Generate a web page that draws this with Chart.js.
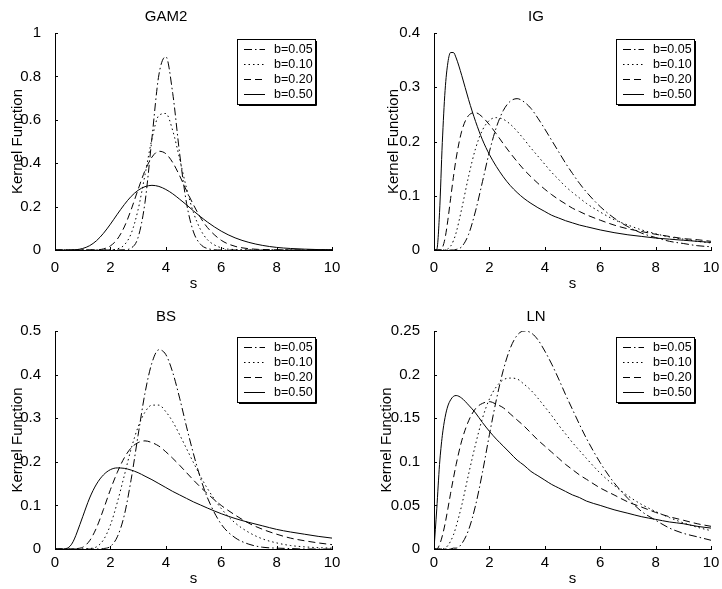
<!DOCTYPE html>
<html>
<head>
<meta charset="utf-8">
<script src="https://cdn.jsdelivr.net/npm/chart.js@4.4.1/dist/chart.umd.min.js"></script>
<style>
  body { margin: 0; background: #fff; }
  #wrap { position: relative; width: 722px; height: 589px; overflow: hidden; }
  canvas { position: absolute; }
</style>
</head>
<body>
<div id="wrap">
  <canvas id="gam2" width="361" height="295" style="left:0px;top:0px"></canvas>
  <canvas id="ig" width="361" height="295" style="left:361px;top:0px"></canvas>
  <canvas id="bs" width="361" height="294" style="left:0px;top:295px"></canvas>
  <canvas id="ln" width="361" height="294" style="left:361px;top:295px"></canvas>
</div>
<script>
// s grid shared by all four panels
const S = [0, 0.1, 0.2, 0.3, 0.4, 0.5, 0.6, 0.7, 0.8,
  1, 1.25, 1.5, 1.75, 2, 2.25, 2.5, 2.75, 3, 3.25, 3.5, 3.75,
  4, 4.25, 4.5, 4.75, 5, 5.25, 5.5, 6, 6.5, 7, 7.5, 8, 8.5, 9, 9.5, 10];

const bLabels = ['b=0.05', 'b=0.10', 'b=0.20', 'b=0.50'];
const xTicks = [0, 2, 4, 6, 8, 10];

// GAM2
const gam2_005 = [0,0,0,0,0,0,0,0,0, 0,0,0,0, 0,0,0.001,0.009, 0.058,0.22,0.516,0.807,
  0.891,0.722,0.444,0.215, 0.083,0.027,0.007, 0,0,0,0,0,0,0,0,0];
const gam2_010 = [0,0,0,0,0,0,0,0,0, 0,0,0,0, 0.001,0.005,0.023,0.076, 0.186,0.347,0.512,0.62,
  0.629,0.55,0.42,0.284, 0.172,0.095,0.048, 0.01,0.002,0,0,0,0,0,0,0];
const gam2_020 = [0,0,0,0,0,0,0,0,0, 0,0,0.001,0.005, 0.019,0.05,0.106,0.186, 0.279,0.366,0.428,0.455,
  0.444,0.403,0.342,0.273, 0.208,0.15,0.104, 0.045,0.017,0.006,0.002,0.001,0,0,0,0];
const gam2_050 = [0,0,0,0,0,0,0,0.001,0.002, 0.007,0.02,0.043,0.077, 0.119,0.165,0.209,0.247, 0.275,0.292,0.298,0.293,
  0.279,0.259,0.234,0.208, 0.18,0.154,0.129, 0.087,0.056,0.035,0.021,0.012,0.007,0.004,0.002,0.001];

// IG
const ig_005 = [0,0,0,0,0,0,0,0,0.001, 0.006,0.029,0.072,0.126, 0.181,0.226,0.257,0.274, 0.279,0.273,0.261,0.243,
  0.223,0.202,0.181,0.16, 0.141,0.123,0.107, 0.08,0.059,0.043,0.031,0.023,0.016,0.012,0.008,0.006];
const ig_010 = [0,0,0,0,0,0.002,0.007,0.017,0.032, 0.076,0.136,0.187,0.221, 0.239,0.244,0.241,0.232, 0.219,0.204,0.188,0.173,
  0.158,0.143,0.13,0.117, 0.106,0.096,0.086, 0.07,0.056,0.046,0.037,0.03,0.024,0.02,0.016,0.013];
const ig_020 = [0,0,0,0.004,0.022,0.055,0.095,0.134,0.169, 0.219,0.248,0.253,0.245, 0.231,0.214,0.196,0.179, 0.163,0.148,0.135,0.123,
  0.112,0.102,0.093,0.085, 0.077,0.071,0.065, 0.055,0.046,0.039,0.034,0.029,0.025,0.021,0.019,0.016];
const ig_050 = [0,0.001,0.069,0.198,0.294,0.345,0.364,0.364,0.354, 0.322,0.277,0.237,0.203, 0.176,0.154,0.135,0.119, 0.106,0.095,0.086,0.078,
  0.071,0.064,0.059,0.054, 0.05,0.046,0.043, 0.037,0.032,0.028,0.025,0.022,0.02,0.018,0.016,0.014];

// BS
const bs_005 = [0,0,0,0,0,0,0,0,0, 0,0,0,0.001, 0.006,0.028,0.077,0.16, 0.261,0.358,0.427,0.457,
  0.446,0.405,0.346,0.28, 0.218,0.163,0.118, 0.057,0.026,0.011,0.004,0.002,0.001,0,0,0];
const bs_010 = [0,0,0,0,0,0,0,0,0, 0,0.001,0.005,0.021, 0.055,0.107,0.168,0.23, 0.28,0.314,0.33,0.33,
  0.315,0.292,0.262,0.23, 0.198,0.167,0.139, 0.093,0.06,0.038,0.023,0.014,0.008,0.005,0.003,0.002];
const bs_020 = [0,0,0,0,0,0,0,0,0.001, 0.004,0.019,0.049,0.091, 0.136,0.176,0.209,0.232, 0.244,0.248,0.244,0.236,
  0.223,0.208,0.192,0.175, 0.158,0.142,0.127, 0.1,0.078,0.059,0.045,0.034,0.025,0.019,0.014,0.01];
const bs_050 = [0,0,0,0,0.001,0.004,0.011,0.023,0.039, 0.074,0.117,0.149,0.17, 0.182,0.186,0.185,0.181, 0.175,0.167,0.159,0.15,
  0.141,0.132,0.124,0.116, 0.108,0.101,0.094, 0.081,0.07,0.061,0.053,0.045,0.039,0.034,0.029,0.025];

// LN
const ln_005 = [0,0,0,0,0,0,0,0.001,0.001, 0.006,0.022,0.05,0.088, 0.131,0.171,0.205,0.23, 0.245,0.25,0.248,0.24,
  0.227,0.212,0.195,0.177, 0.16,0.143,0.127, 0.099,0.076,0.058,0.043,0.033,0.024,0.018,0.014,0.01];
const ln_010 = [0,0,0,0,0.001,0.004,0.009,0.016,0.026, 0.05,0.086,0.12,0.15, 0.172,0.186,0.194,0.196, 0.195,0.189,0.182,0.173,
  0.163,0.153,0.142,0.132, 0.122,0.113,0.104, 0.087,0.073,0.061,0.051,0.043,0.036,0.03,0.025,0.021];
const ln_020 = [0,0,0.005,0.015,0.029,0.046,0.064,0.081,0.097, 0.124,0.147,0.161,0.167, 0.169,0.166,0.162,0.155, 0.148,0.141,0.133,0.125,
  0.118,0.111,0.104,0.097, 0.091,0.085,0.08, 0.07,0.062,0.054,0.048,0.042,0.037,0.033,0.029,0.026];
const ln_050 = [0,0.046,0.097,0.13,0.151,0.164,0.171,0.175,0.176, 0.173,0.165,0.156,0.145, 0.135,0.126,0.118,0.11, 0.102,0.096,0.089,0.084,
  0.079,0.074,0.07,0.066, 0.062,0.059,0.055, 0.05,0.045,0.041,0.037,0.034,0.031,0.029,0.026,0.024];

const gam2YTicks = [0, 0.2, 0.4, 0.6, 0.8, 1];
const igYTicks = [0, 0.1, 0.2, 0.3, 0.4];
const bsYTicks = [0, 0.1, 0.2, 0.3, 0.4, 0.5];
const lnYTicks = [0, 0.05, 0.1, 0.15, 0.2, 0.25];

// matlab line styles: -. : -- -
const dashes = [[8, 3, 1.5, 3], [1.5, 3], [7, 4], []];

Chart.defaults.font.family = '"Liberation Sans", Arial, sans-serif';
Chart.defaults.font.size = 15;
Chart.defaults.color = '#000';
Chart.defaults.animation = false;

// ticks pointing into the plot, like matlab
const inTicks = {
  id: 'inTicks',
  afterDraw(chart) {
    const {ctx, chartArea: a, scales: {x, y}} = chart;
    ctx.save();
    ctx.strokeStyle = '#000';
    ctx.lineWidth = 1;
    ctx.beginPath();
    x.ticks.forEach(t => {
      const px = Math.round(x.getPixelForValue(t.value)) + 0.5;
      ctx.moveTo(px, a.bottom);
      ctx.lineTo(px, a.bottom - 3);
    });
    y.ticks.forEach(t => {
      const py = Math.round(y.getPixelForValue(t.value)) + 0.5;
      ctx.moveTo(a.left, py);
      ctx.lineTo(a.left + 3, py);
    });
    ctx.stroke();
    ctx.restore();
  }
};

// boxed legend in the upper right corner of the axes
const boxLegend = {
  id: 'boxLegend',
  afterDraw(chart) {
    const {ctx, chartArea: a} = chart;
    const w = 78, h = 65;
    const x0 = Math.round(a.right - 17 - w), y0 = Math.round(a.top + 6);
    ctx.save();
    ctx.fillStyle = '#fff';
    ctx.fillRect(x0, y0, w, h);
    ctx.strokeStyle = '#000';
    ctx.lineWidth = 1;
    ctx.strokeRect(x0 + 0.5, y0 + 0.5, w, h);
    ctx.beginPath();
    ctx.moveTo(x0 + w + 1.5, y0 + 2);
    ctx.lineTo(x0 + w + 1.5, y0 + h + 1.5);
    ctx.lineTo(x0 + 2, y0 + h + 1.5);
    ctx.stroke();
    ctx.font = '12.5px "Liberation Sans", Arial, sans-serif';
    ctx.textBaseline = 'middle';
    chart.data.datasets.forEach((ds, i) => {
      const y = Math.round(y0 + 9.5 + i * 15.3) + 0.5;
      ctx.setLineDash(ds.borderDash);
      ctx.beginPath();
      ctx.moveTo(x0 + 7, y);
      ctx.lineTo(x0 + 28, y);
      ctx.stroke();
      ctx.setLineDash([]);
      ctx.fillStyle = '#000';
      ctx.fillText(ds.label, x0 + 37, y);
    });
    ctx.restore();
  }
};

function fmt(v) {
  return String(+v.toFixed(2));
}

function makePanel(id, title, series, yTicks, lay) {
  const datasets = series.map((vals, i) => ({
    label: bLabels[i],
    data: S.map((s, j) => ({x: s, y: vals[j]})),
    borderColor: '#000',
    borderWidth: 1,
    borderDash: dashes[i],
    pointRadius: 0,
    fill: false,
    cubicInterpolationMode: 'monotone'
  }));
  const ymax = yTicks[yTicks.length - 1];
  return new Chart(document.getElementById(id), {
    type: 'line',
    data: {datasets},
    options: {
      responsive: false,
      layout: {padding: {left: 0, right: lay.right, top: 0, bottom: 0}},
      plugins: {
        legend: {display: false},
        tooltip: {enabled: false},
        title: {
          display: true,
          text: title,
          font: {size: 15, weight: 'normal'},
          padding: {top: lay.titleTop, bottom: lay.titleBottom}
        }
      },
      scales: {
        x: {
          type: 'linear',
          min: 0,
          max: 10,
          afterBuildTicks: sc => { sc.ticks = xTicks.map(v => ({value: v})); },
          afterFit: sc => { sc.height = lay.xh; },
          grid: {display: false},
          border: {color: '#000', width: 1},
          ticks: {padding: lay.xPad, callback: fmt, maxRotation: 0},
          title: {display: true, text: 's', padding: {top: 0, bottom: lay.xTitle}}
        },
        y: {
          type: 'linear',
          min: 0,
          max: ymax,
          afterBuildTicks: sc => { sc.ticks = yTicks.map(v => ({value: v})); },
          afterFit: sc => { sc.width = lay.yw; },
          grid: {display: false},
          border: {color: '#000', width: 1},
          ticks: {padding: 6, callback: fmt},
          title: {display: true, text: 'Kernel Function', padding: {top: lay.yTitle, bottom: 0}}
        }
      }
    },
    plugins: [inTicks, boxLegend]
  });
}

makePanel('gam2', 'GAM2', [gam2_005, gam2_010, gam2_020, gam2_050], gam2YTicks,
  {right: 29, yw: 55, xh: 45, titleTop: 8, titleBottom: 7, yTitle: 9, xTitle: 2, xPad: 1});
makePanel('ig', 'IG', [ig_005, ig_010, ig_020, ig_050], igYTicks,
  {right: 11, yw: 73, xh: 45, titleTop: 8, titleBottom: 7, yTitle: 24, xTitle: 2, xPad: 1});
makePanel('bs', 'BS', [bs_005, bs_010, bs_020, bs_050], bsYTicks,
  {right: 29, yw: 55, xh: 40, titleTop: 13, titleBottom: 5, yTitle: 9, xTitle: 1, xPad: -3});
makePanel('ln', 'LN', [ln_005, ln_010, ln_020, ln_050], lnYTicks,
  {right: 11, yw: 73, xh: 40, titleTop: 13, titleBottom: 5, yTitle: 17, xTitle: 1, xPad: -3});
</script>
</body>
</html>
